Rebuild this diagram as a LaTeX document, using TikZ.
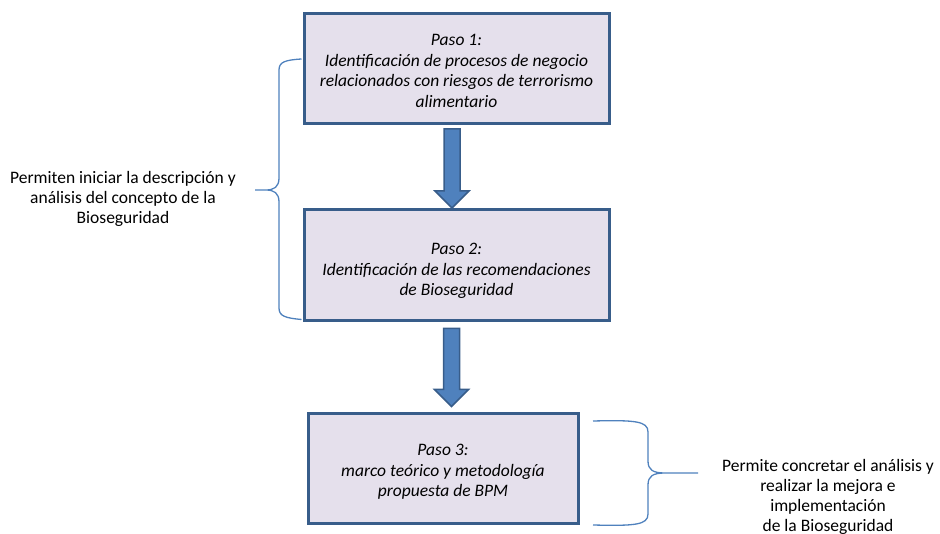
\documentclass[tikz,border=0pt]{standalone}
\usepackage{fontspec}
\setmainfont{Carlito}
\usetikzlibrary{calc}

\definecolor{boxfill}{RGB}{229,224,236}
\definecolor{boxline}{RGB}{56,93,138}
\definecolor{arrowfill}{RGB}{79,129,189}
\definecolor{bracecol}{RGB}{79,129,189}

\begin{document}
\begin{tikzpicture}[x=1pt,y=-1pt,
  stepbox/.style={draw=boxline, line width=3pt, fill=boxfill, inner sep=0pt},
  steptext/.style={align=center, font=\fontsize{17.5}{20.5}\selectfont\itshape, inner sep=0pt},
  blockarrow/.style={draw=boxline, line width=1.5pt, fill=arrowfill, line join=miter},
  brace/.style={draw=bracecol, line width=1.3pt},
  note/.style={align=center, font=\fontsize{17.5}{19.8}\selectfont, inner sep=0pt},
  pics/downarrow/.style={code={
    \filldraw[blockarrow] (-8,0) -- (8,0) -- (8,#1-17) -- (17,#1-17) -- (0,#1)
      -- (-17,#1-17) -- (-8,#1-17) -- cycle;}}]
\useasboundingbox (0,0) rectangle (940,534);

% process steps
\node[stepbox, minimum width=305pt, minimum height=110pt] (b1) at (456.5,68.5) {};
\node[stepbox, minimum width=305pt, minimum height=111pt] (b2) at (456.5,265.5) {};
\node[stepbox, minimum width=270pt, minimum height=109pt] (b3) at (443,468.5) {};

\node[steptext] (t1) at ($(b1.center)+(0,2.5)$)
  {Paso 1:\\Identificación de procesos de negocio\\relacionados con riesgos de terrorismo\\alimentario};
\node[steptext] (t2) at ($(b2.center)+(0,5.5)$)
  {Paso 2:\\ Identificación de las recomendaciones\\de Bioseguridad};
\node[steptext] (t3) at ($(b3.center)+(0,3.5)$)
  {Paso 3:\\marco teórico y metodología\\propuesta de BPM};

% block arrows between the steps
\pic at ($(b1.south)+(-4.5,4)$) {downarrow=79};
\pic at ($(b2.south)+(-5,6)$) {downarrow=78};

% left brace spanning steps 1 and 2
\coordinate (lt) at ($(b1.north west)+(-1,47)$);
\coordinate (lb) at ($(b2.south west)+(-1,-3)$);
\coordinate (ltip) at (255,190);
\draw[brace] (lt) .. controls (285,60) and (279,62) .. (279,70) -- (279,178)
  .. controls (279,187) and (274,190) .. (266,190) -- (ltip)
  (266,190) .. controls (274,190) and (279,193) .. (279,202) -- (279,308)
  .. controls (279,316) and (285,318) .. (lb);

% right brace beside step 3
\coordinate (rt) at (593,421);
\coordinate (rb) at (593,525);
\coordinate (rtip) at (698,473);
\draw[brace] (rt) .. controls (635,420) and (648,421) .. (648,432) -- (648,461)
  .. controls (648,470) and (653,473) .. (665,473) -- (rtip)
  (665,473) .. controls (653,473) and (648,476) .. (648,485) -- (648,514)
  .. controls (648,525) and (635,526) .. (rb);

% annotations
\node[note] (nl) at (123,199) {Permiten iniciar la descripción y\\análisis del concepto de la\\Bioseguridad};
\node[note] (nr) at (828,497) {Permite concretar el análisis y\\realizar la mejora e\\implementación\\de la Bioseguridad};
\end{tikzpicture}
\end{document}
